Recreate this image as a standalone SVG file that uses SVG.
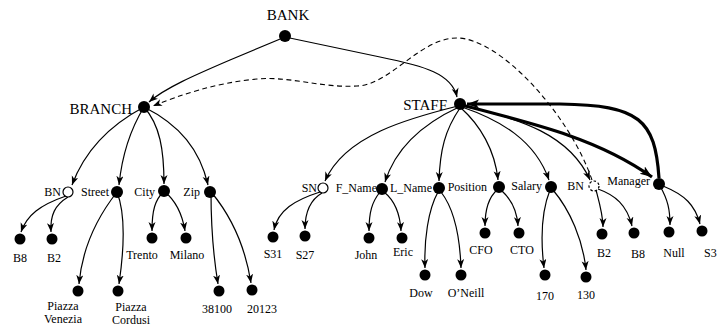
<svg xmlns="http://www.w3.org/2000/svg" width="717" height="326" viewBox="0 0 717 326">
<style>
text{font-family:"Liberation Serif","Times New Roman",serif;fill:#000}
.big{font-size:15px}
.lb{font-size:12px}
.c{text-anchor:middle}
.e{text-anchor:end}
.dot{fill:#000}
.open{fill:#fff;stroke:#000;stroke-width:1.2}
.dash{fill:#fff;stroke:#000;stroke-width:1.2;stroke-dasharray:2.5 2}
.edge{fill:none;stroke:#000;stroke-width:1.2;marker-end:url(#arr)}
.thick{fill:none;stroke:#000;stroke-width:3.2;marker-end:url(#arrB)}
.ref{fill:none;stroke:#000;stroke-width:1.1;stroke-dasharray:5 3.5;marker-end:url(#arr)}
</style>
<defs>
<marker id="arr" markerUnits="userSpaceOnUse" markerWidth="10" markerHeight="8" refX="9" refY="3.5" orient="auto">
<path d="M0,0 L9,3.5 L0,7 L2.5,3.5 Z" fill="#000"/>
</marker>
<marker id="arrB" markerUnits="userSpaceOnUse" markerWidth="14" markerHeight="10" refX="12" refY="4.5" orient="auto">
<path d="M0,0 L12,4.5 L0,9 L3,4.5 Z" fill="#000"/>
</marker>
</defs>
<g id="connectors">
<path class="edge" d="M285,37 L230,60 C195,75 165,88 149,102"/>
<path class="edge" d="M285,37 L380,57 C425,66 452,74 457,97"/>
<path class="ref" d="M592,180 C570,115 500,38 457,38 C420,38 390,85 357,86 C320,88 290,76 257,79 C215,83 180,95 153,106"/>
<path class="edge" d="M144,107 C110,125 85,150 72,185"/>
<path class="edge" d="M144,107 C130,130 122,155 119,185"/>
<path class="edge" d="M144,107 C160,125 164,150 164,184"/>
<path class="edge" d="M144,107 C180,125 200,150 208,185"/>
<path class="edge" d="M66,196 C40,205 27,215 21,232"/>
<path class="edge" d="M68,197 C55,205 50,215 51,232"/>
<path class="edge" d="M117,192 C95,220 82,250 79,284"/>
<path class="edge" d="M117,192 C126,215 124,250 119,284"/>
<path class="edge" d="M164,191 C155,200 152,210 152,231"/>
<path class="edge" d="M164,191 C175,200 182,212 185,231"/>
<path class="edge" d="M211,192 C211,230 214,260 218,284"/>
<path class="edge" d="M212,193 C230,215 245,245 251,283"/>
<path class="edge" d="M458,106 C410,118 345,135 325,181"/>
<path class="edge" d="M459,107 C420,125 395,150 385,182"/>
<path class="edge" d="M460,108 C445,130 440,150 439,181"/>
<path class="edge" d="M461,108 C480,125 495,150 498,180"/>
<path class="edge" d="M462,107 C500,120 535,140 549,180"/>
<path class="edge" d="M462,106 C520,118 570,135 590,180"/>
<path class="thick" d="M462,105 C540,125 600,140 652,177"/>
<path class="thick" d="M659,178 C655,120 640,105 560,104 L467,104"/>
<path class="edge" d="M320,192 C295,200 278,210 274,230"/>
<path class="edge" d="M322,193 C310,200 305,212 305,229"/>
<path class="edge" d="M380,192 C372,202 369,212 369,231"/>
<path class="edge" d="M384,192 C394,200 400,212 401,231"/>
<path class="edge" d="M438,192 C428,210 424,240 425,268"/>
<path class="edge" d="M441,192 C455,210 460,240 461,268"/>
<path class="edge" d="M497,190 C488,198 485,210 485,226"/>
<path class="edge" d="M501,190 C510,198 517,210 518,226"/>
<path class="edge" d="M550,190 C542,210 540,235 544,268"/>
<path class="edge" d="M553,190 C570,210 583,240 586,270"/>
<path class="edge" d="M596,190 C600,205 603,215 603,227"/>
<path class="edge" d="M598,189 C615,195 627,205 632,226"/>
<path class="edge" d="M660,186 C668,200 670,210 670,225"/>
<path class="edge" d="M663,186 C685,195 695,205 700,224"/>
</g>
<g id="bank"><circle class="dot" cx="285" cy="36" r="6"/><text class="big c" x="288" y="20">BANK</text></g>
<g id="branch"><circle class="dot" cx="144" cy="107" r="6"/><text class="big e" x="132" y="114">BRANCH</text></g>
<g id="staff"><circle class="dot" cx="460" cy="104" r="6"/><text class="big e" x="447" y="110">STAFF</text></g>
<g id="branch-bn"><circle class="open" cx="68" cy="192" r="5"/><text class="lb e" x="61" y="196">BN</text></g>
<g id="street"><circle class="dot" cx="117" cy="192" r="6"/><text class="lb e" x="109" y="196">Street</text></g>
<g id="city"><circle class="dot" cx="164" cy="191" r="6"/><text class="lb e" x="155" y="196">City</text></g>
<g id="zip"><circle class="dot" cx="210" cy="192" r="6"/><text class="lb e" x="200" y="196">Zip</text></g>
<g id="b8a"><circle class="dot" cx="20" cy="239" r="5.5"/><text class="lb c" x="20" y="262">B8</text></g>
<g id="b2a"><circle class="dot" cx="52" cy="239" r="5.5"/><text class="lb c" x="54" y="262">B2</text></g>
<g id="piazza-venezia"><circle class="dot" cx="78" cy="291" r="5.5"/><text class="lb c" x="63" y="310">Piazza</text><text class="lb c" x="63" y="323">Venezia</text></g>
<g id="piazza-cordusi"><circle class="dot" cx="118" cy="291" r="5.5"/><text class="lb c" x="131" y="311">Piazza</text><text class="lb c" x="131" y="324">Cordusi</text></g>
<g id="trento"><circle class="dot" cx="152" cy="238" r="5.5"/><text class="lb c" x="142" y="259">Trento</text></g>
<g id="milano"><circle class="dot" cx="186" cy="238" r="5.5"/><text class="lb c" x="187" y="259">Milano</text></g>
<g id="z38100"><circle class="dot" cx="219" cy="291" r="5.5"/><text class="lb c" x="217" y="313">38100</text></g>
<g id="z20123"><circle class="dot" cx="252" cy="290" r="5.5"/><text class="lb c" x="262" y="313">20123</text></g>
<g id="sn"><circle class="open" cx="323" cy="188" r="5"/><text class="lb e" x="317" y="192">SN</text></g>
<g id="fname"><circle class="dot" cx="382" cy="189" r="6"/><text class="lb e" x="377" y="192">F_Name</text></g>
<g id="lname"><circle class="dot" cx="439" cy="188" r="6"/><text class="lb e" x="432" y="192">L_Name</text></g>
<g id="position"><circle class="dot" cx="499" cy="187" r="6"/><text class="lb e" x="487" y="191">Position</text></g>
<g id="salary"><circle class="dot" cx="551" cy="187" r="6"/><text class="lb e" x="542" y="190">Salary</text></g>
<g id="staff-bn"><circle class="dash" cx="594" cy="186" r="5"/><text class="lb e" x="584" y="190">BN</text></g>
<g id="manager"><circle class="dot" cx="659" cy="184" r="6"/><text class="lb e" x="650" y="185">Manager</text></g>
<g id="s31"><circle class="dot" cx="273" cy="237" r="5.5"/><text class="lb c" x="273" y="258">S31</text></g>
<g id="s27"><circle class="dot" cx="305" cy="236" r="5.5"/><text class="lb c" x="305" y="259">S27</text></g>
<g id="john"><circle class="dot" cx="369" cy="238" r="5.5"/><text class="lb c" x="366" y="259">John</text></g>
<g id="eric"><circle class="dot" cx="402" cy="238" r="5.5"/><text class="lb c" x="403" y="256">Eric</text></g>
<g id="dow"><circle class="dot" cx="425" cy="275" r="5.5"/><text class="lb c" x="421" y="297">Dow</text></g>
<g id="oneill"><circle class="dot" cx="461" cy="275" r="5.5"/><text class="lb c" x="466" y="297">O’Neill</text></g>
<g id="cfo"><circle class="dot" cx="485" cy="233" r="5.5"/><text class="lb c" x="481" y="254">CFO</text></g>
<g id="cto"><circle class="dot" cx="519" cy="233" r="5.5"/><text class="lb c" x="522" y="254">CTO</text></g>
<g id="s170"><circle class="dot" cx="545" cy="275" r="5.5"/><text class="lb c" x="545" y="300">170</text></g>
<g id="s130"><circle class="dot" cx="586" cy="277" r="5.5"/><text class="lb c" x="586" y="299">130</text></g>
<g id="b2b"><circle class="dot" cx="602" cy="234" r="5.5"/><text class="lb c" x="604" y="257">B2</text></g>
<g id="b8b"><circle class="dot" cx="634" cy="233" r="5.5"/><text class="lb c" x="638" y="258">B8</text></g>
<g id="null"><circle class="dot" cx="669" cy="232" r="5.5"/><text class="lb c" x="674" y="257">Null</text></g>
<g id="s3"><circle class="dot" cx="702" cy="231" r="5.5"/><text class="lb" x="704" y="257">S3</text></g>
</svg>
